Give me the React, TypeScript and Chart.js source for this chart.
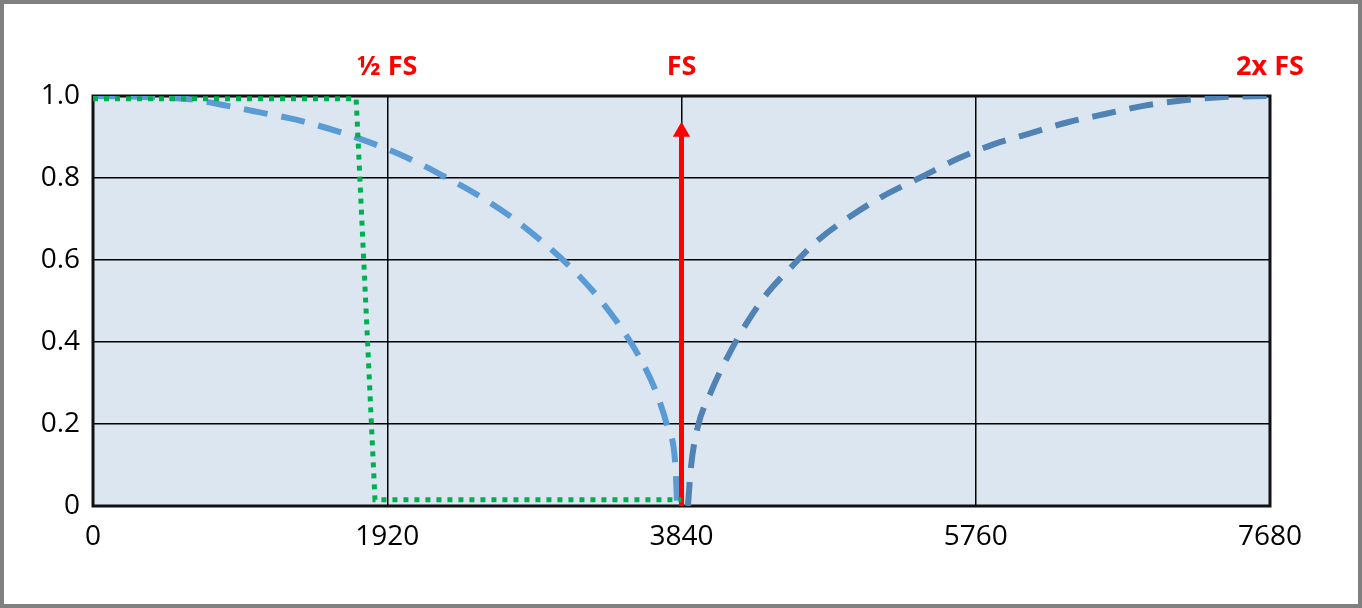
import { useEffect, useRef } from 'react';
import { Chart, registerables } from 'chart.js';

Chart.register(...registerables);

const X_TICKS = [0, 1920, 3840, 5760, 7680];
const X_TICK_LABELS = ['0', '1920', '3840', '5760', '7680'];
const Y_TICKS = [0, 0.2, 0.4, 0.6, 0.8, 1.0];
const Y_TICK_LABELS = ['0', '0.2', '0.4', '0.6', '0.8', '1.0'];

// Response below FS (lighter dashed curve)
const LEFT_F = [0, 300, 633, 848, 1090, 1338, 1586, 1820, 2047, 2275, 2499, 2710, 2912, 3095, 3265, 3421, 3560, 3671, 3749, 3799, 3812];
const LEFT_V = [1.0, 0.998, 0.992, 0.978, 0.96, 0.941, 0.915, 0.885, 0.85, 0.807, 0.761, 0.71, 0.651, 0.59, 0.523, 0.448, 0.367, 0.281, 0.192, 0.104, 0.0];

// Response above FS (darker dashed curve)
const RIGHT_F = [3882, 3902, 3944, 4033, 4141, 4265, 4400, 4559, 4733, 4940, 5147, 5419, 5648, 5875, 6115, 6361, 6603, 6853, 7104, 7353, 7680];
const RIGHT_V = [0.0, 0.096, 0.19, 0.279, 0.364, 0.446, 0.519, 0.584, 0.649, 0.706, 0.754, 0.805, 0.848, 0.882, 0.909, 0.936, 0.956, 0.976, 0.989, 0.997, 1.0];

// Ideal low-pass filter (green dotted)
const FILTER_F = [0, 1717, 1840, 3840];
const FILTER_V = [0.993, 0.993, 0.015, 0.015];

// Red arrow at FS
const ARROW_F = [3840, 3840];
const ARROW_V = [0, 0.913];

const MARKER_LABELS = ['½ FS', 'FS', '2x FS'];
const MARKER_F = [1920, 3840, 7680];

const toPts = (xs: number[], ys: number[]) => xs.map((x, i) => ({ x, y: ys[i] }));

const decoPlugin = {
  id: 'deco',
  beforeDraw(chart: any) {
    const { ctx, chartArea: a, width, height } = chart;
    ctx.save();
    ctx.fillStyle = '#ffffff';
    ctx.fillRect(0, 0, width, height);
    ctx.fillStyle = '#dce6f1';
    ctx.fillRect(a.left, a.top, a.right - a.left, a.bottom - a.top);
    ctx.strokeStyle = '#808080';
    ctx.lineWidth = 4;
    ctx.strokeRect(2, 2, width - 4, height - 4);
    ctx.restore();
  },
  beforeDatasetsDraw(chart: any) {
    const { ctx, chartArea: a } = chart;
    ctx.save();
    ctx.strokeStyle = '#111111';
    ctx.lineWidth = 3;
    ctx.strokeRect(a.left, a.top, a.right - a.left, a.bottom - a.top);
    ctx.restore();
  },
  afterDraw(chart: any) {
    const { ctx, chartArea: a, scales } = chart;
    ctx.save();
    ctx.fillStyle = '#ff0000';
    ctx.font = 'bold 27px "Open Sans"';
    ctx.textAlign = 'center';
    ctx.textBaseline = 'middle';
    MARKER_LABELS.forEach((t, i) => {
      ctx.fillText(t, scales.x.getPixelForValue(MARKER_F[i]), a.top - 29);
    });
    ctx.restore();
  },
};

export default function App() {
  const ref = useRef<HTMLCanvasElement>(null);
  useEffect(() => {
    const chart = new Chart(ref.current!, {
      type: 'line',
      data: {
        datasets: [
          {
            data: toPts(FILTER_F, FILTER_V),
            borderColor: '#00b050',
            borderWidth: 5,
            borderDash: [5, 6],
            pointRadius: 0,
            tension: 0,
          },
          {
            data: toPts(ARROW_F, ARROW_V),
            borderColor: '#ff0000',
            borderWidth: 5,
            pointRadius: [0, 10],
            pointStyle: 'triangle',
            pointBackgroundColor: '#ff0000',
            pointBorderColor: '#ff0000',
            pointBorderWidth: 0,
            tension: 0,
          },
          {
            data: toPts(LEFT_F, LEFT_V),
            borderColor: '#5b9bd5',
            borderWidth: 6,
            borderDash: [24, 14],
            pointRadius: 0,
            cubicInterpolationMode: 'monotone',
          },
          {
            data: toPts(RIGHT_F, RIGHT_V),
            borderColor: '#5082b3',
            borderWidth: 6,
            borderDash: [24, 14],
            pointRadius: 0,
            cubicInterpolationMode: 'monotone',
          },
        ],
      },
      options: {
        responsive: false,
        animation: false,
        layout: { padding: { left: 0, top: 96, right: 92, bottom: 0 } },
        plugins: { legend: { display: false }, tooltip: { enabled: false } },
        scales: {
          x: {
            type: 'linear',
            min: 0,
            max: 7680,
            afterBuildTicks: (s: any) => {
              s.ticks = X_TICKS.map((v) => ({ value: v }));
            },
            afterFit: (s: any) => {
              s.height = 102;
            },
            ticks: {
              autoSkip: false,
              maxRotation: 0,
              padding: 14,
              color: '#000000',
              font: { family: '"Open Sans"', size: 28 },
              callback: (_v: any, i: number) => X_TICK_LABELS[i],
            },
            grid: { color: '#000000', lineWidth: 1.5, drawTicks: false },
            border: { display: false },
          },
          y: {
            type: 'linear',
            min: 0,
            max: 1,
            afterBuildTicks: (s: any) => {
              s.ticks = Y_TICKS.map((v) => ({ value: v }));
            },
            afterFit: (s: any) => {
              s.width = 93;
            },
            ticks: {
              autoSkip: false,
              padding: 13,
              color: '#000000',
              font: { family: '"Open Sans"', size: 28 },
              callback: (_v: any, i: number) => Y_TICK_LABELS[i],
            },
            grid: { color: '#000000', lineWidth: 1.5, drawTicks: false },
            border: { display: false },
          },
        },
      },
      plugins: [decoPlugin],
    } as any);
    return () => chart.destroy();
  }, []);
  return (
    <div style={{ position: 'absolute', left: 0, top: 0, width: 1362, height: 608 }}>
      <canvas ref={ref} width={1362} height={608} />
    </div>
  );
}
